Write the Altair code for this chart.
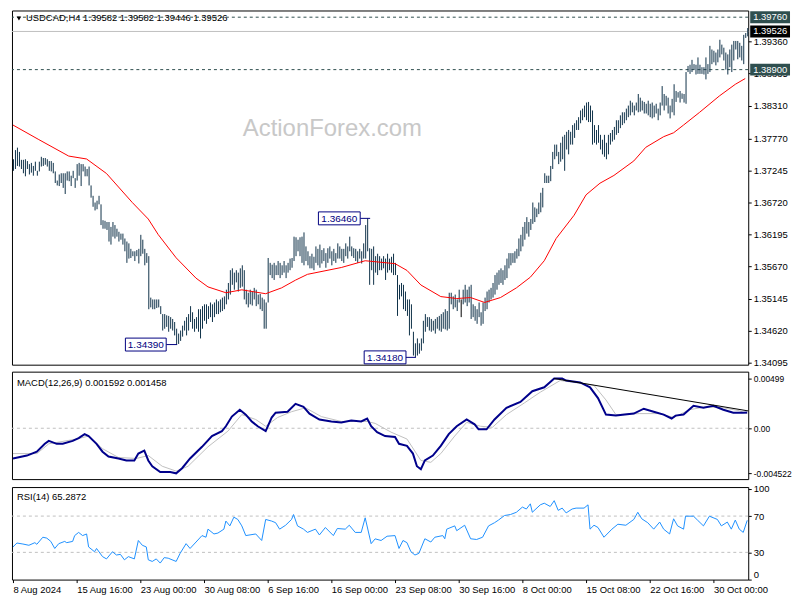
import altair as alt
import pandas as pd

# ---------------- data ----------------
bar_high = [
    1.3743, 1.3758, 1.3762, 1.3755, 1.3742, 1.3742, 1.3743, 1.3740, 1.3735, 1.3737,
    1.3732, 1.3739, 1.3724, 1.3739, 1.3747, 1.3745, 1.3745, 1.3743, 1.3740, 1.3740,
    1.3737, 1.3723, 1.3708, 1.3718, 1.3720, 1.3720, 1.3720, 1.3723, 1.3723, 1.3716,
    1.3724, 1.3712, 1.3735, 1.3737, 1.3735, 1.3735, 1.3731, 1.3727, 1.3731, 1.3700,
    1.3683, 1.3672, 1.3675, 1.3683, 1.3669, 1.3643, 1.3642, 1.3640, 1.3640, 1.3632,
    1.3640, 1.3635, 1.3629, 1.3624, 1.3621, 1.3621, 1.3613, 1.3608, 1.3605, 1.3596,
    1.3592, 1.3592, 1.3594, 1.3596, 1.3619, 1.3611, 1.3596, 1.3589, 1.3584, 1.3516,
    1.3513, 1.3513, 1.3513, 1.3513, 1.3502, 1.3489, 1.3489, 1.3487, 1.3486, 1.3484,
    1.3481, 1.3476, 1.3465, 1.3457, 1.3462, 1.3470, 1.3478, 1.3484, 1.3489, 1.3502,
    1.3492, 1.3481, 1.3484, 1.3497, 1.3497, 1.3502, 1.3505, 1.3505, 1.3502, 1.3508,
    1.3505, 1.3508, 1.3513, 1.3510, 1.3513, 1.3516, 1.3518, 1.3529, 1.3540, 1.3561,
    1.3564, 1.3557, 1.3561, 1.3557, 1.3564, 1.3569, 1.3561, 1.3529, 1.3524, 1.3529,
    1.3526, 1.3532, 1.3529, 1.3521, 1.3522, 1.3516, 1.3513, 1.3508, 1.3581, 1.3573,
    1.3570, 1.3573, 1.3569, 1.3576, 1.3573, 1.3569, 1.3576, 1.3569, 1.3573, 1.3580,
    1.3581, 1.3616, 1.3615, 1.3611, 1.3615, 1.3616, 1.3623, 1.3600, 1.3592, 1.3584,
    1.3588, 1.3583, 1.3600, 1.3596, 1.3603, 1.3594, 1.3597, 1.3589, 1.3597, 1.3600,
    1.3592, 1.3596, 1.3589, 1.3605, 1.3600, 1.3596, 1.3596, 1.3605, 1.3600, 1.3616,
    1.3600, 1.3597, 1.3596, 1.3592, 1.3596, 1.3592, 1.3605, 1.3635, 1.3646, 1.3597,
    1.3596, 1.3600, 1.3584, 1.3588, 1.3584, 1.3580, 1.3584, 1.3580, 1.3588, 1.3580,
    1.3583, 1.3588, 1.3573, 1.3553, 1.3537, 1.3540, 1.3537, 1.3526, 1.3513, 1.3513,
    1.3505, 1.3460, 1.3441, 1.3449, 1.3441, 1.3449, 1.3478, 1.3489, 1.3484, 1.3484,
    1.3481, 1.3478, 1.3481, 1.3484, 1.3486, 1.3489, 1.3492, 1.3497, 1.3494, 1.3524,
    1.3524, 1.3518, 1.3521, 1.3513, 1.3529, 1.3513, 1.3529, 1.3537, 1.3529, 1.3534,
    1.3537, 1.3505, 1.3502, 1.3497, 1.3508, 1.3492, 1.3508, 1.3516, 1.3526, 1.3529,
    1.3532, 1.3540, 1.3553, 1.3557, 1.3561, 1.3564, 1.3561, 1.3569, 1.3580, 1.3589,
    1.3589, 1.3589, 1.3592, 1.3596, 1.3613, 1.3619, 1.3632, 1.3640, 1.3648, 1.3640,
    1.3645, 1.3672, 1.3664, 1.3662, 1.3672, 1.3688, 1.3696, 1.3720, 1.3716, 1.3716,
    1.3732, 1.3755, 1.3767, 1.3767, 1.3755, 1.3770, 1.3780, 1.3783, 1.3788, 1.3791,
    1.3788, 1.3799, 1.3802, 1.3807, 1.3812, 1.3823, 1.3826, 1.3831, 1.3836, 1.3837,
    1.3831, 1.3823, 1.3799, 1.3791, 1.3799, 1.3783, 1.3775, 1.3783, 1.3770, 1.3783,
    1.3786, 1.3791, 1.3796, 1.3807, 1.3807, 1.3815, 1.3820, 1.3820, 1.3826, 1.3831,
    1.3839, 1.3836, 1.3831, 1.3836, 1.3850, 1.3844, 1.3839, 1.3837, 1.3834, 1.3839,
    1.3834, 1.3836, 1.3831, 1.3834, 1.3826, 1.3836, 1.3863, 1.3850, 1.3847, 1.3844,
    1.3831, 1.3842, 1.3866, 1.3855, 1.3853, 1.3855, 1.3851, 1.3850, 1.3886, 1.3896,
    1.3898, 1.3906, 1.3899, 1.3898, 1.3910, 1.3898, 1.3894, 1.3894, 1.3910, 1.3899,
    1.3929, 1.3923, 1.3921, 1.3918, 1.3923, 1.3939, 1.3931, 1.3926, 1.3918, 1.3915,
    1.3923, 1.3931, 1.3937, 1.3937, 1.3937, 1.3934, 1.3929, 1.3947, 1.3950, 1.39582,
]
bar_low = [
    1.3724, 1.3727, 1.3732, 1.3731, 1.3727, 1.3720, 1.3715, 1.3727, 1.3718, 1.3721,
    1.3716, 1.3724, 1.3716, 1.3723, 1.3731, 1.3732, 1.3734, 1.3731, 1.3724, 1.3723,
    1.3720, 1.3704, 1.3700, 1.3699, 1.3704, 1.3696, 1.3686, 1.3708, 1.3707, 1.3699,
    1.3712, 1.3696, 1.3708, 1.3716, 1.3699, 1.3723, 1.3715, 1.3715, 1.3700, 1.3680,
    1.3665, 1.3659, 1.3661, 1.3669, 1.3635, 1.3629, 1.3629, 1.3627, 1.3608, 1.3603,
    1.3616, 1.3613, 1.3616, 1.3608, 1.3611, 1.3603, 1.3592, 1.3573, 1.3580, 1.3581,
    1.3584, 1.3576, 1.3584, 1.3572, 1.3584, 1.3588, 1.3569, 1.3573, 1.3497, 1.3500,
    1.3497, 1.3497, 1.3499, 1.3500, 1.3489, 1.3462, 1.3465, 1.3468, 1.3460, 1.3465,
    1.3462, 1.3454, 1.3439, 1.3440, 1.3445, 1.3452, 1.3462, 1.3454, 1.3462, 1.3476,
    1.3465, 1.3460, 1.3465, 1.3460, 1.3449, 1.3465, 1.3478, 1.3473, 1.3481, 1.3484,
    1.3476, 1.3484, 1.3489, 1.3489, 1.3492, 1.3494, 1.3497, 1.3505, 1.3513, 1.3521,
    1.3537, 1.3529, 1.3541, 1.3526, 1.3532, 1.3534, 1.3513, 1.3505, 1.3500, 1.3505,
    1.3503, 1.3513, 1.3502, 1.3505, 1.3497, 1.3494, 1.3465, 1.3465, 1.3508, 1.3553,
    1.3548, 1.3545, 1.3553, 1.3553, 1.3548, 1.3553, 1.3557, 1.3548, 1.3557, 1.3561,
    1.3565, 1.3576, 1.3584, 1.3592, 1.3584, 1.3573, 1.3569, 1.3576, 1.3569, 1.3564,
    1.3564, 1.3561, 1.3573, 1.3569, 1.3565, 1.3572, 1.3576, 1.3565, 1.3573, 1.3580,
    1.3569, 1.3576, 1.3573, 1.3580, 1.3580, 1.3576, 1.3573, 1.3584, 1.3580, 1.3592,
    1.3584, 1.3581, 1.3576, 1.3573, 1.3580, 1.3572, 1.3580, 1.3580, 1.3592, 1.3537,
    1.3561, 1.3537, 1.3557, 1.3553, 1.3561, 1.3561, 1.3564, 1.3545, 1.3557, 1.3561,
    1.3557, 1.3553, 1.3553, 1.3486, 1.3513, 1.3518, 1.3497, 1.3494, 1.3486, 1.3454,
    1.3465, 1.3421, 1.3418, 1.3421, 1.3424, 1.3429, 1.3441, 1.3460, 1.3468, 1.3462,
    1.3460, 1.3462, 1.3457, 1.3465, 1.3462, 1.3460, 1.3465, 1.3464, 1.3462, 1.3465,
    1.3505, 1.3497, 1.3500, 1.3494, 1.3508, 1.3484, 1.3505, 1.3508, 1.3502, 1.3508,
    1.3481, 1.3484, 1.3478, 1.3473, 1.3484, 1.3470, 1.3473, 1.3494, 1.3497, 1.3508,
    1.3513, 1.3516, 1.3521, 1.3529, 1.3537, 1.3540, 1.3537, 1.3545, 1.3548, 1.3564,
    1.3569, 1.3573, 1.3573, 1.3580, 1.3584, 1.3592, 1.3600, 1.3611, 1.3621, 1.3616,
    1.3627, 1.3637, 1.3640, 1.3648, 1.3653, 1.3656, 1.3664, 1.3704, 1.3704, 1.3704,
    1.3707, 1.3727, 1.3743, 1.3748, 1.3735, 1.3739, 1.3743, 1.3724, 1.3759, 1.3751,
    1.3767, 1.3767, 1.3778, 1.3791, 1.3791, 1.3802, 1.3807, 1.3812, 1.3807, 1.3804,
    1.3804, 1.3767, 1.3770, 1.3767, 1.3770, 1.3759, 1.3751, 1.3747, 1.3743, 1.3751,
    1.3767, 1.3772, 1.3775, 1.3783, 1.3786, 1.3794, 1.3799, 1.3802, 1.3807, 1.3812,
    1.3815, 1.3820, 1.3815, 1.3823, 1.3820, 1.3821, 1.3823, 1.3818, 1.3818, 1.3815,
    1.3812, 1.3810, 1.3812, 1.3818, 1.3807, 1.3815, 1.3831, 1.3823, 1.3831, 1.3818,
    1.3810, 1.3820, 1.3815, 1.3837, 1.3844, 1.3836, 1.3842, 1.3836, 1.3834, 1.3886,
    1.3883, 1.3886, 1.3890, 1.3882, 1.3883, 1.3883, 1.3883, 1.3882, 1.3874, 1.3883,
    1.3886, 1.3899, 1.3902, 1.3897, 1.3902, 1.3910, 1.3915, 1.3905, 1.3890, 1.3882,
    1.3894, 1.3886, 1.3905, 1.3923, 1.3907, 1.3910, 1.3905, 1.3899, 1.3942, 1.39446,
]
odd_bar = 225  # the single bar drawn in black

ma_idx = [0, 13, 28, 37, 47, 60, 68, 73, 82, 92, 98, 107, 115, 127, 135, 142, 148, 165, 177, 182,
          192, 198, 205, 215, 223, 230, 237, 245, 253, 260, 267, 273, 282, 288, 295, 302, 312, 318,
          327, 332, 337, 345, 355, 363, 368]
ma_val = [1.37991, 1.37752, 1.37482, 1.37434, 1.37196, 1.36719, 1.36449, 1.36194, 1.35813, 1.35479,
          1.35336, 1.35240, 1.35288, 1.35224, 1.35320, 1.35447, 1.35542, 1.35654, 1.35765, 1.35749,
          1.35717, 1.35606, 1.35367, 1.35177, 1.35145, 1.35161, 1.35081, 1.35161, 1.35320, 1.35495,
          1.35765, 1.36131, 1.36512, 1.36846, 1.37037, 1.37164, 1.37402, 1.37625, 1.37800, 1.37864,
          1.37991, 1.38198, 1.38468, 1.38659, 1.38754]

macd_idx = [0, 7, 12, 16, 18, 22, 25, 30, 33, 36,
            38, 42, 45, 48, 53, 57, 61, 63, 66, 68,
            70, 74, 79, 82, 85, 89, 95, 100, 105, 107,
            110, 114, 117, 120, 123, 127, 130, 132, 138, 142,
            146, 149, 154, 160, 165, 170, 175, 178, 180, 183,
            187, 192, 194, 198, 201, 203, 205, 207, 211, 215,
            219, 223, 228, 232, 234, 238, 242, 248, 255, 261,
            267, 272, 276, 278, 285, 290, 294, 298, 303, 312,
            317, 322, 327, 331, 333, 337, 342, 347, 352, 357,
            362, 367, 369]
macd_val = [-0.00303, -0.00274, -0.00235, -0.00156, -0.00127, -0.00156, -0.00156, -0.00127, -0.00098, -0.00059,
            -0.00078, -0.00156, -0.00235, -0.00284, -0.00303, -0.00323, -0.00323, -0.00254, -0.00225, -0.00323,
            -0.00381, -0.00440, -0.00440, -0.004522, -0.00401, -0.00303, -0.00186, -0.00078, -0.00029, 0.00020,
            0.00117, 0.00186, 0.00137, 0.00068, 0.00020, -0.00029, 0.00108, 0.00156, 0.00166, 0.00245,
            0.00215, 0.00147, 0.00088, 0.00068, 0.00059, 0.00078, 0.00068, 0.00098, 0.00020, -0.00039,
            -0.00078, -0.00088, -0.00156, -0.00176, -0.00254, -0.00381, -0.00411, -0.00323, -0.00274, -0.00176,
            -0.00059, 0.00020, 0.00088, 0.00039, -0.00010, -0.00010, 0.00088, 0.00205, 0.00264, 0.00372,
            0.00411, 0.00499, 0.00499, 0.00479, 0.00460, 0.00411, 0.00303, 0.00137, 0.00127, 0.00147,
            0.00196, 0.00166, 0.00137, 0.00098, 0.00127, 0.00137, 0.00225, 0.00205, 0.00225, 0.00186,
            0.00156, 0.00156, 0.001592]

sig_idx = [0, 12, 18, 32, 38, 45, 53, 62, 68, 75,
           82, 88, 98, 108, 115, 122, 127, 133, 140, 147,
           155, 165, 178, 182, 190, 198, 205, 210, 215, 222,
           228, 235, 241, 248, 257, 265, 275, 282, 292, 298,
           303, 315, 325, 332, 340, 348, 357, 365, 369]
sig_val = [-0.00254, -0.00254, -0.00156, -0.00108, -0.00078, -0.00205, -0.00293, -0.00303, -0.00274, -0.00381,
           -0.00430, -0.00381, -0.00186, -0.00029, 0.00137, 0.00088, 0.00020, 0.00108, 0.00166, 0.00205,
           0.00117, 0.00068, 0.00068, 0.00049, -0.00039, -0.00108, -0.00323, -0.00342, -0.00254, -0.00078,
           0.00059, 0.00020, 0.00010, 0.00137, 0.00254, 0.00362, 0.00479, 0.00460, 0.00430, 0.00284,
           0.00137, 0.00147, 0.00147, 0.00108, 0.00186, 0.00215, 0.00205, 0.00176, 0.001458]

trend_idx = [272, 369.5]
trend_val = [0.00499, 0.00174]

rsi_idx = [0, 2, 5, 8, 11, 12, 15, 17, 19, 21,
           23, 26, 27, 30, 31, 33, 35, 37, 38, 41,
           42, 45, 47, 50, 52, 54, 56, 58, 61, 63,
           65, 67, 68, 70, 72, 74, 76, 78, 82, 84,
           87, 89, 92, 95, 97, 98, 101, 103, 106, 107,
           109, 111, 113, 115, 117, 122, 125, 127, 130, 132,
           134, 137, 140, 141, 143, 146, 148, 152, 154, 157,
           161, 163, 167, 169, 172, 175, 177, 180, 182, 185,
           188, 192, 194, 196, 198, 200, 202, 204, 207, 210,
           212, 216, 217, 218, 222, 223, 227, 230, 233, 236,
           239, 242, 244, 247, 250, 253, 256, 258, 260, 261,
           265, 267, 270, 272, 274, 276, 278, 281, 283, 287,
           289, 290, 292, 294, 297, 301, 304, 308, 312, 314,
           316, 319, 322, 325, 327, 330, 332, 334, 337, 338,
           342, 344, 347, 350, 354, 356, 359, 361, 363, 365,
           367, 369]
rsi_val = [36.0, 40.3, 39.2, 37.8, 40.7, 38.9, 46.7, 45.7, 42.1, 34.3,
           39.6, 42.1, 40.7, 42.1, 48.5, 52.0, 48.5, 50.3, 36.0, 30.7,
           34.3, 25.3, 22.8, 30.7, 27.1, 27.8, 21.8, 25.3, 22.8, 43.1,
           37.8, 36.0, 21.8, 20.0, 22.8, 18.2, 24.2, 23.6, 20.0, 28.9,
           39.6, 34.3, 41.4, 48.5, 46.7, 55.6, 50.3, 51.3, 55.6, 64.5,
           59.2, 68.8, 66.3, 59.2, 48.5, 50.3, 43.1, 66.3, 64.5, 62.7,
           55.6, 59.9, 66.3, 71.7, 59.2, 55.6, 52.0, 55.6, 49.2, 57.4,
           48.5, 56.3, 55.6, 59.9, 52.0, 52.0, 68.1, 39.6, 44.9, 43.1,
           47.8, 48.5, 34.3, 43.1, 40.7, 30.7, 27.1, 28.9, 45.0, 41.4,
           46.7, 48.5, 45.0, 55.6, 59.2, 53.9, 59.9, 45.0, 44.2, 46.7,
           59.2, 62.7, 65.6, 70.6, 71.7, 74.2, 79.9, 77.8, 83.5, 74.2,
           82.4, 84.2, 80.6, 87.0, 76.3, 78.8, 73.5, 77.8, 78.8, 78.8,
           82.4, 55.6, 59.9, 57.4, 46.7, 55.6, 61.0, 59.9, 66.3, 74.2,
           67.0, 62.7, 55.6, 63.4, 55.6, 50.3, 67.0, 59.2, 55.6, 69.9,
           69.9, 65.6, 59.2, 69.9, 66.3, 59.2, 63.4, 55.6, 65.6, 55.6,
           52.0, 65.2872]

date_idx = [0, 32, 64, 96, 128, 160, 192, 224, 256, 288, 320, 352]
date_labels = ["8 Aug 2024", "15 Aug 16:00", "23 Aug 00:00", "30 Aug 08:00", "6 Sep 16:00",
               "16 Sep 00:00", "23 Sep 08:00", "30 Sep 16:00", "8 Oct 00:00", "15 Oct 08:00",
               "22 Oct 16:00", "30 Oct 00:00"]

price_ticks = [1.39360, 1.38835, 1.38310, 1.37770, 1.37245, 1.36720, 1.36195,
               1.35670, 1.35145, 1.34620, 1.34095]
macd_ticks = [0.00499, 0.0, -0.004522]
macd_tick_labels = ["0.00499", "0.00", "-0.004522"]
rsi_ticks = [100, 70, 30, 0]
rsi_levels = [70, 30]

level_prices = [1.39760, 1.38900]
current_price = 1.39526

ann_labels = ["1.36460", "1.34390", "1.34180"]
ann_prices = [1.36460, 1.34390, 1.34180]
ann_left = [153.5, 56.5, 176.5]
ann_right = [174.5, 77.0, 197.5]
ann_end = [179.5, 82.5, 202.5]

title_main = "USDCAD,H4 1.39582 1.39582 1.39446 1.39526"
title_macd = "MACD(12,26,9) 0.001592 0.001458"
title_rsi = "RSI(14) 65.2872"
watermark = "ActionForex.com"

# ---------------- layout / style ----------------
FONT = "Liberation Sans"
W = 740
H_MAIN, H_MACD, H_RSI = 356, 108, 93
BAR_COLOR = "#0f3149"
SLATE = "#2f4f4f"
NAVY = "#000080"

xs = alt.Scale(domain=[-0.5, 369.5], nice=False, zero=False)
ys_p = alt.Scale(domain=[1.3406, 1.3987], nice=False, zero=False)
ys_m = alt.Scale(domain=[-0.0051, 0.00568], nice=False, zero=False)
ys_r = alt.Scale(domain=[0, 102], nice=False, zero=False)

common_ax = dict(orient="right", title=None, tickSize=3, labelPadding=2, domain=False,
                 grid=False, labelOverlap=False, labelBound=False)
ax_p = alt.Axis(values=price_ticks, format=".5f", **common_ax)
macd_expr = ("datum.value > 0.001 ? '%s' : (datum.value < -0.001 ? '%s' : '%s')"
             % (macd_tick_labels[0], macd_tick_labels[2], macd_tick_labels[1]))
ax_m = alt.Axis(values=macd_ticks, labelExpr=macd_expr, labelFontSize=8.5, **common_ax)
ax_r = alt.Axis(values=rsi_ticks, format="d", labelFlush=True, **common_ax)

lab_arr = "[" + ",".join("'%s'" % s for s in date_labels) + "]"
idx_arr = "[" + ",".join(str(v) for v in date_idx) + "]"
ax_x = alt.Axis(values=date_idx, labelExpr="%s[indexof(%s, datum.value)]" % (lab_arr, idx_arr),
                labelAlign="left", labelBaseline="top", tickSize=3, labelPadding=2,
                domain=False, grid=False, labelOverlap=False, labelFlush=False,
                labelBound=False, title=None, orient="bottom")


def X(f, axis=None):
    return alt.X(f, type="quantitative", scale=xs, axis=axis, title=None)


def YP(f):
    return alt.Y(f, type="quantitative", scale=ys_p, axis=ax_p, title=None)


def YM(f):
    return alt.Y(f, type="quantitative", scale=ys_m, axis=ax_m, title=None)


def YR(f):
    return alt.Y(f, type="quantitative", scale=ys_r, axis=ax_r, title=None)


def label_text(text, x, y, size=9.5, color="black"):
    return alt.Chart(pd.DataFrame({"t": [text]})).mark_text(
        font=FONT, fontSize=size, color=color, align="left", baseline="middle"
    ).encode(text="t:N", x=alt.value(x), y=alt.value(y))


# ---------------- main price panel ----------------
n = min(len(bar_high), len(bar_low))
bars_df = pd.DataFrame({"i": list(range(n)), "high": bar_high[:n], "low": bar_low[:n]})
ma_df = pd.DataFrame({"i": ma_idx, "v": ma_val})
lvl_df = pd.DataFrame({"p": level_prices, "label": ["%.5f" % p for p in level_prices]})
cur_df = pd.DataFrame({"p": [current_price], "label": ["%.5f" % current_price]})
ann_df = pd.DataFrame({"label": ann_labels, "p": ann_prices, "x1": ann_left,
                       "x2": ann_right, "xe": ann_end})

wm = alt.Chart(pd.DataFrame({"t": [watermark]})).mark_text(
    font=FONT, fontSize=24, color="#c8c8c8", align="center", baseline="middle"
).encode(text="t:N", x=alt.value(322), y=alt.value(119))

dashed = alt.Chart(lvl_df).mark_rule(color=SLATE, strokeDash=[3, 3], strokeWidth=1).encode(y=YP("p"))
cur_line = alt.Chart(cur_df).mark_rule(color="#c0c0c0", strokeWidth=1).encode(y=YP("p"))

bar_color = alt.when(alt.datum.i == odd_bar).then(alt.value("black")).otherwise(alt.value(BAR_COLOR))
bars = alt.Chart(bars_df).mark_rule(strokeWidth=1, xOffset=0.5).encode(
    x=X("i"), y=YP("high"), y2=alt.Y2("low"), color=bar_color)
ma = alt.Chart(ma_df).mark_line(color="#ff0000", strokeWidth=1).encode(x=X("i"), y=YP("v"))

ann_conn = alt.Chart(ann_df).mark_rule(color=NAVY, strokeWidth=1).encode(
    x=X("x2"), x2=alt.X2("xe"), y=YP("p"))
ann_box = alt.Chart(ann_df).mark_rect(fill="white", stroke=NAVY, strokeWidth=1,
                                      yOffset=-6.5, y2Offset=6.5).encode(
    x=X("x1"), x2=alt.X2("x2"), y=YP("p"), y2=alt.Y2("p"))
ann_txt = alt.Chart(ann_df).transform_calculate(xc="(datum.x1 + datum.x2) / 2").mark_text(
    font=FONT, fontSize=10, color=NAVY, align="center", baseline="middle", dy=0.5
).encode(x=X("xc:Q"), y=YP("p"), text="label:N")

lvl_box = alt.Chart(lvl_df).mark_rect(color=SLATE, yOffset=-6, y2Offset=6).encode(
    x=alt.value(W + 2), x2=alt.value(W + 42), y=YP("p"), y2=alt.Y2("p"))
lvl_txt = alt.Chart(lvl_df).mark_text(font=FONT, fontSize=9.5, color="white", align="left",
                                      baseline="middle").encode(
    x=alt.value(W + 5), y=YP("p"), text="label:N")
cur_box = alt.Chart(cur_df).mark_rect(color="black", yOffset=-6, y2Offset=6).encode(
    x=alt.value(W + 2), x2=alt.value(W + 42), y=YP("p"), y2=alt.Y2("p"))
cur_txt = alt.Chart(cur_df).mark_text(font=FONT, fontSize=9.5, color="white", align="left",
                                      baseline="middle").encode(
    x=alt.value(W + 5), y=YP("p"), text="label:N")

tri = alt.Chart(pd.DataFrame({"t": [title_main]})).mark_point(
    shape="triangle-down", filled=True, size=22, color="black", opacity=1
).encode(x=alt.value(7), y=alt.value(8))

main = alt.layer(
    wm, dashed, cur_line, bars, ma, ann_conn, ann_box, ann_txt,
    lvl_box, lvl_txt, cur_box, cur_txt, tri, label_text(title_main, 14, 8)
).properties(width=W, height=H_MAIN)

# ---------------- MACD panel ----------------
macd_df = pd.DataFrame({"i": macd_idx, "v": macd_val})
sig_df = pd.DataFrame({"i": sig_idx, "v": sig_val})
trend_df = pd.DataFrame({"i": trend_idx, "v": trend_val})

zero = alt.Chart(pd.DataFrame({"v": [0.0]})).mark_rule(
    color="#c0c0c0", strokeDash=[3, 3], strokeWidth=1).encode(y=YM("v"))
sig = alt.Chart(sig_df).mark_line(color="#c0c0c0", strokeWidth=1).encode(x=X("i"), y=YM("v"))
macd = alt.Chart(macd_df).mark_line(color="#00008b", strokeWidth=2).encode(x=X("i"), y=YM("v"))
trend = alt.Chart(trend_df).mark_line(color="black", strokeWidth=1).encode(x=X("i"), y=YM("v"))

macd_panel = alt.layer(zero, sig, macd, trend, label_text(title_macd, 5, 11)).properties(
    width=W, height=H_MACD)

# ---------------- RSI panel ----------------
rsi_df = pd.DataFrame({"i": rsi_idx, "v": rsi_val})
rsi_lv = alt.Chart(pd.DataFrame({"v": rsi_levels})).mark_rule(
    color="#c0c0c0", strokeDash=[3, 3], strokeWidth=1).encode(y=YR("v"))
rsi = alt.Chart(rsi_df).mark_line(color="#1e90ff", strokeWidth=1).encode(
    x=X("i", axis=ax_x), y=YR("v"))

rsi_panel = alt.layer(rsi_lv, rsi, label_text(title_rsi, 5, 10)).properties(width=W, height=H_RSI)

chart = alt.vconcat(main, macd_panel, rsi_panel, spacing=3).properties(
    padding=0, background="white"
).configure_view(stroke="black", strokeWidth=1).configure_axis(
    labelFont=FONT, labelFontSize=9.5, labelColor="black", tickColor="black", tickWidth=1
)

chart.save("out.html", embed_options={"renderer": "svg", "actions": False})
